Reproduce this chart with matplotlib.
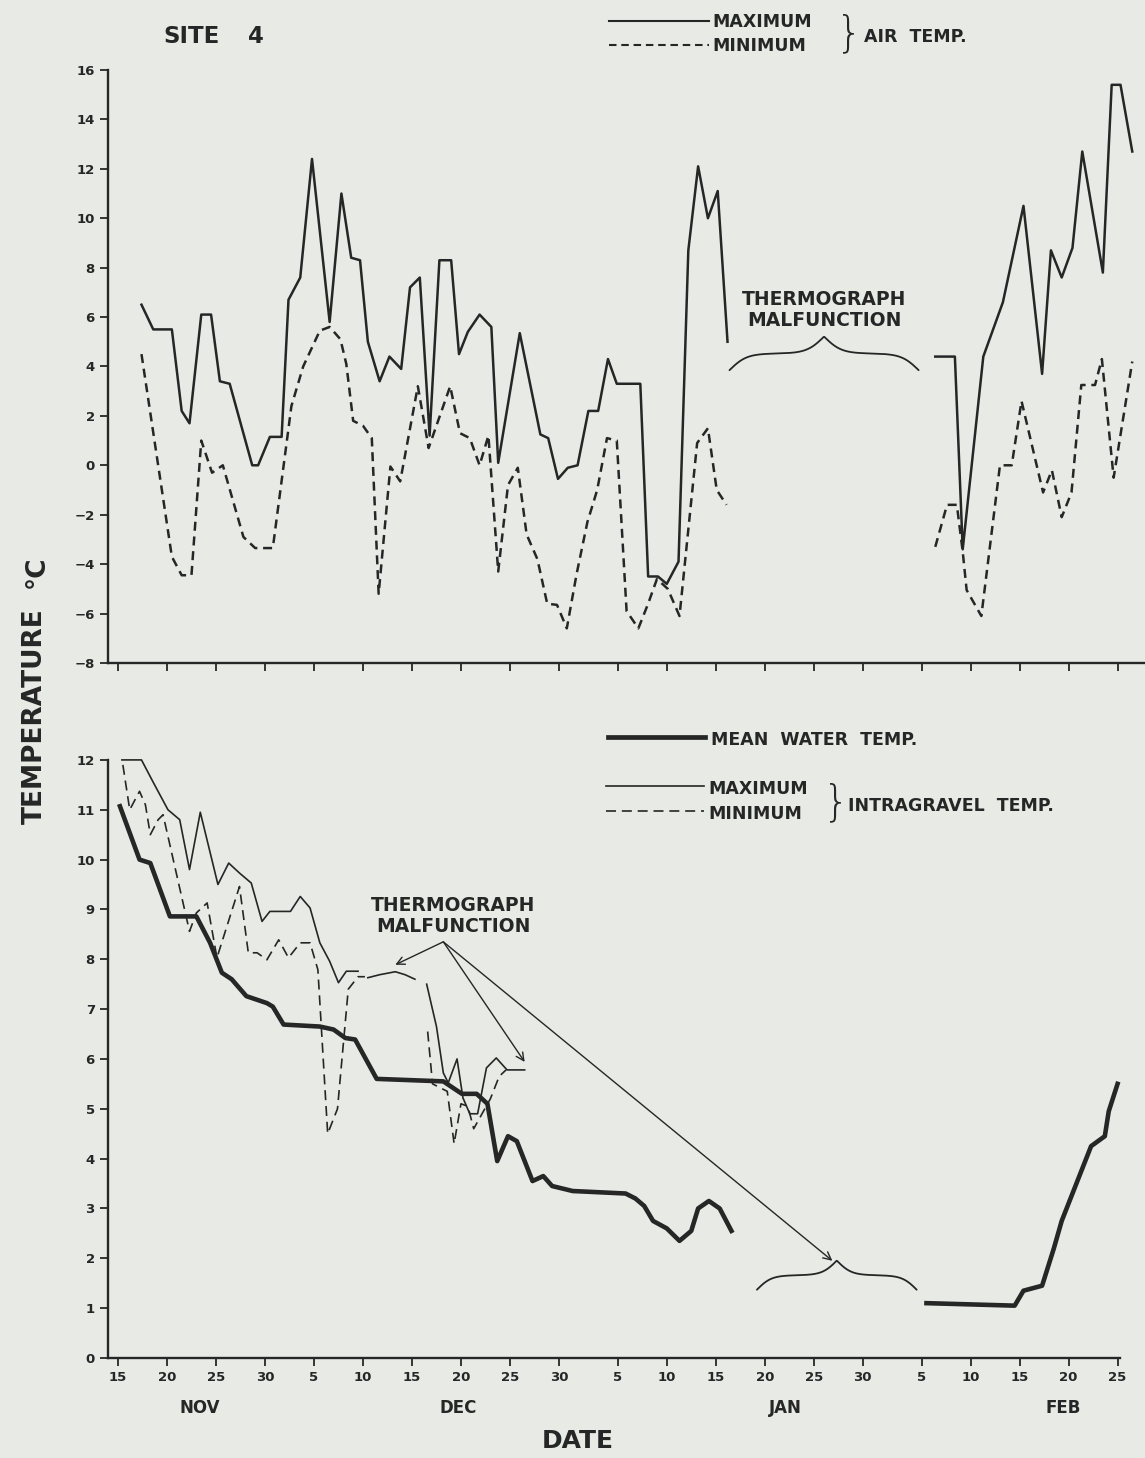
import numpy as np
import matplotlib
matplotlib.use('Agg')
from matplotlib import pyplot as plt

plt.rcParams['font.family'] = ['DejaVu Sans']
plt.rcParams['font.weight'] = 'bold'

ink = '#262626'
paper = '#e8ebe5'
nan = np.nan

# 日期: 从11月15日起算的天数
air_max_day = [2.4, 3.6, 5.5, 6.5, 7.3, 8.5, 9.5, 10.4, 11.4, 13.7, 14.3, 15.5, 16.7,
               17.4, 18.6, 19.8, 21.6, 22.8, 23.8, 24.7, 25.5, 26.7, 27.7, 28.9, 29.8,
               30.8, 31.8, 32.8, 34.0, 34.8, 35.7, 36.9, 38.1, 38.8, 41.0, 43.1, 43.9,
               44.9, 45.9, 46.9, 48.0, 49.0, 50.0, 50.9, 53.3, 54.1, 55.1, 56.0, 57.2,
               58.2, 59.2, 60.2, 61.2, 62.2, nan,
               83.4, 85.4, 86.2, 88.3, 90.3, 92.4, 94.3, 95.2, 96.3, 97.4, 98.4, 100.5,
               101.4, 102.3, 103.5]
air_max = [6.5, 5.5, 5.5, 2.2, 1.7, 6.1, 6.1, 3.4, 3.3, 0.0, 0.0, 1.15, 1.15,
           6.7, 7.6, 12.4, 5.8, 11.0, 8.4, 8.3, 5.0, 3.4, 4.4, 3.9, 7.2,
           7.6, 1.2, 8.3, 8.3, 4.5, 5.4, 6.1, 5.6, 0.1, 5.35, 1.25, 1.1,
           -0.55, -0.1, 0.0, 2.2, 2.2, 4.3, 3.3, 3.3, -4.5, -4.5, -4.8, -3.9,
           8.7, 12.1, 10.0, 11.1, 5.0, nan,
           4.4, 4.4, -3.4, 4.4, 6.6, 10.5, 3.7, 8.7, 7.6, 8.8, 12.7, 7.8,
           15.4, 15.4, 12.7]

air_min_day = [2.4, 5.5, 6.5, 7.5, 8.5, 9.6, 10.7, 12.8, 14.0, 15.8, 17.7, 18.9, 20.6,
               21.6, 22.7, 23.3, 24.0, 25.0, 25.9, 26.6, 27.8, 28.8, 30.6, 31.7, 33.9,
               34.9, 35.9, 36.9, 37.8, 38.8, 39.8, 40.8, 41.7, 42.8, 43.8, 44.8, 45.8,
               46.8, 47.9, 48.9, 49.9, 50.9, 51.9, 53.1, 54.1, 55.0, 56.1, 57.3, 59.1,
               60.2, 61.1, 62.1, nan,
               83.4, 84.6, 85.6, 86.2, 86.6, 88.1, 90.0, 91.2, 92.2, 94.4, 95.3, 96.3,
               97.3, 98.3, 99.7, 100.4, 101.6, 103.5]
air_min = [4.5, -3.7, -4.45, -4.45, 1.0, -0.3, 0.0, -2.9, -3.35, -3.35, 2.4, 4.0, 5.45,
           5.6, 5.1, 4.1, 1.8, 1.6, 1.1, -5.2, -0.05, -0.65, 3.2, 0.7, 3.2,
           1.3, 1.1, 0.0, 1.2, -4.3, -0.8, -0.1, -2.8, -3.8, -5.6, -5.65, -6.6,
           -4.4, -2.3, -1.0, 1.1, 1.0, -5.9, -6.6, -5.6, -4.6, -5.0, -6.1, 0.9,
           1.5, -1.0, -1.6, nan,
           -3.3, -1.6, -1.6, -3.5, -5.05, -6.1, 0.0, 0.0, 2.6, -1.1, -0.2, -2.1,
           -1.1, 3.25, 3.25, 4.3, -0.5, 4.2]

water_day = [0.2, 2.2, 3.3, 5.3, 8.0, 9.4, 10.6, 11.6, 13.1, 15.2, 15.8, 16.9, 20.6,
             22.0, 23.2, 24.2, 26.4, 33.2, 35.1, 36.6, 37.7, 38.7, 39.8, 40.7, 42.3,
             43.4, 44.3, 46.4, 51.8, 52.8, 53.7, 54.6, 56.0, 57.3, 58.5, 59.2, 60.3,
             61.4, 62.6, nan,
             82.5, 91.5, 92.4, 94.3, 95.5, 96.3, 98.0, 99.3, 100.7, 101.1, 102.0]
water_mean = [11.07, 10.0, 9.93, 8.86, 8.86, 8.33, 7.73, 7.6, 7.26, 7.12, 7.05, 6.69, 6.65,
              6.59, 6.42, 6.39, 5.6, 5.55, 5.3, 5.3, 5.1, 3.95, 4.45, 4.35, 3.55,
              3.65, 3.45, 3.35, 3.3, 3.2, 3.05, 2.75, 2.6, 2.35, 2.55, 3.0, 3.15,
              3.0, 2.55, nan,
              1.1, 1.05, 1.35, 1.45, 2.2, 2.75, 3.6, 4.25, 4.45, 4.95, 5.5]

gravel_max_day = [0.4, 2.4, 3.6, 5.1, 6.3, 7.3, 8.4, 10.2, 11.3, 12.4, 13.6, 14.7, 15.5,
                  17.6, 18.6, 19.6, 20.6, 21.6, 22.5, 23.3, 24.5, nan,
                  25.5, 26.7, 28.3, 29.3, 30.3, nan,
                  31.5, 32.5, 33.2, 33.7, 34.6, 35.2, 35.9, 36.7, 37.6, 38.6, 39.7, 41.5]
gravel_max = [12.0, 12.0, 11.55, 11.0, 10.8, 9.8, 10.95, 9.5, 9.93, 9.73, 9.53, 8.76, 8.96,
              8.96, 9.26, 9.03, 8.33, 7.96, 7.53, 7.76, 7.76, nan,
              7.63, 7.69, 7.75, 7.69, 7.6, nan,
              7.5, 6.65, 5.72, 5.52, 6.0, 5.22, 4.9, 4.9, 5.82, 6.02, 5.78, 5.78]

gravel_min_day = [0.5, 1.2, 2.2, 2.8, 3.3, 4.1, 4.6, 7.3, 8.0, 9.1, 10.1, 12.4, 13.3,
                  14.2, 15.2, 16.4, 17.4, 18.6, 19.6, 20.4, 21.4, 22.4, 23.5, 24.5, 25.2, nan,
                  31.6, 32.1, 33.6, 34.3, 35.0, 35.7, 36.3, 38.0, 38.9, 39.6]
gravel_min = [11.9, 11.0, 11.37, 11.1, 10.5, 10.8, 10.9, 8.56, 8.93, 9.13, 8.03, 9.46, 8.13,
              8.13, 7.99, 8.39, 8.03, 8.33, 8.33, 7.79, 4.5, 5.0, 7.4, 7.65, 7.65, nan,
              6.55, 5.5, 5.35, 4.3, 5.1, 5.05, 4.6, 5.2, 5.65, 5.78]

tick_days = [0, 5, 10, 15, 20, 25, 30, 35, 40, 45, 51, 56, 61, 66, 71, 76, 82, 87, 92, 97, 102]
tick_labels = ['15', '20', '25', '30', '5', '10', '15', '20', '25', '30',
               '5', '10', '15', '20', '25', '30', '5', '10', '15', '20', '25']
months = ['NOV', 'DEC', 'JAN', 'FEB']
month_days = [8.3, 34.7, 68.1, 96.5]


def brace(ax, x0, x1, y0, h, beta=11):
    # 花括号, 尖端朝上
    t = np.linspace(0, 1, 200)
    half = 1 / (1 + np.exp(-beta * t)) + 1 / (1 + np.exp(-beta * (t - 1)))
    half = (half - half[0]) / (half[-1] - half[0])
    ys = np.concatenate([half, half[::-1]])
    xs = np.linspace(x0, x1, len(ys))
    ax.plot(xs, y0 + h * ys, color=ink, lw=1.3, solid_capstyle='round')


def style_axis(ax):
    for side in ['top', 'right']:
        ax.spines[side].set_visible(False)
    for side in ['left', 'bottom']:
        ax.spines[side].set_linewidth(1.7)
        ax.spines[side].set_color(ink)
    ax.set_facecolor('none')
    ax.tick_params(axis='both', direction='out', length=6, width=1.3, colors=ink,
                   labelsize=9.5)
    ax.set_xticks(tick_days)
    ax.set_xlim(-1.02, 104.8)


fig = plt.figure(figsize=(11.45, 14.58), dpi=100, facecolor=paper)

# 气温
ax1 = fig.add_axes([0.0943, 0.5453, 0.9057, 0.4067])
style_axis(ax1)
ax1.plot(air_max_day, air_max, color=ink, lw=1.8)
ax1.plot(air_min_day, air_min, color=ink, lw=1.8, linestyle=(0, (3.6, 2.3)))
ax1.set_ylim(-8, 16)
ax1.set_yticks(range(-8, 17, 2))
ax1.set_yticklabels([str(v).replace('-', '\u2212') for v in range(-8, 17, 2)])
ax1.set_xticklabels([])
ax1.text(72.1, 6.3, 'THERMOGRAPH\nMALFUNCTION', ha='center', va='center',
         fontsize=13.5, linespacing=1.15, color=ink)
brace(ax1, 62.4, 81.7, 3.85, 1.35)

# 水温
ax2 = fig.add_axes([0.0943, 0.0686, 0.9057, 0.4102])
style_axis(ax2)
ax2.plot(water_day, water_mean, color=ink, lw=3.3, solid_joinstyle='round')
ax2.plot(gravel_max_day, gravel_max, color=ink, lw=1.2, clip_on=False)
ax2.plot(gravel_min_day, gravel_min, color=ink, lw=1.2, linestyle=(0, (6, 3.5)),
         clip_on=False)
ax2.set_ylim(0, 12)
ax2.set_yticks(range(0, 13))
ax2.set_xticklabels(tick_labels)
ax2.spines['bottom'].set_bounds(-1.02, 102.2)
for m, d in zip(months, month_days):
    ax2.text(d, -0.083, m, transform=ax2.get_xaxis_transform(), ha='center',
             va='center', fontsize=12, color=ink)
ax2.text(34.2, 8.87, 'THERMOGRAPH\nMALFUNCTION', ha='center', va='center',
         fontsize=13.5, linespacing=1.15, color=ink)
for tx, ty in [(28.3, 7.89), (41.5, 5.94), (72.9, 1.95)]:
    ax2.annotate('', xy=(tx, ty), xytext=(33.2, 8.35),
                 arrowprops=dict(arrowstyle='->', color=ink, lw=1.0,
                                 shrinkA=0, shrinkB=0, mutation_scale=14))
brace(ax2, 65.2, 81.5, 1.37, 0.58)

# 图例和标题, 按像素放置
ov = fig.add_axes([0, 0, 1, 1], zorder=5)
ov.set_xlim(0, 1145)
ov.set_ylim(1458, 0)
ov.axis('off')
ov.set_facecolor('none')

ov.text(163, 36, 'SITE', fontsize=16.5, va='center', color=ink)
ov.text(248, 36, '4', fontsize=16.5, va='center', color=ink)

ov.plot([609, 709], [21, 21], color=ink, lw=1.5)
ov.plot([609, 709], [45, 45], color=ink, lw=1.5, linestyle=(0, (3.6, 2.3)))
ov.text(712, 22, 'MAXIMUM', fontsize=12.5, va='center', color=ink)
ov.text(712, 46, 'MINIMUM', fontsize=12.5, va='center', color=ink)
ov.text(836, 34, '}', fontsize=30, va='center', color=ink, weight='light')
ov.text(864, 37, 'AIR  TEMP.', fontsize=12.5, va='center', color=ink)

ov.plot([608, 705], [737, 737], color=ink, lw=3.4)
ov.text(711, 740, 'MEAN  WATER  TEMP.', fontsize=12.5, va='center', color=ink)
ov.plot([606, 704], [786, 786], color=ink, lw=1.2)
ov.plot([606, 704], [811, 811], color=ink, lw=1.2, linestyle=(0, (6, 3.5)))
ov.text(708, 789, 'MAXIMUM', fontsize=12.5, va='center', color=ink)
ov.text(708, 814, 'MINIMUM', fontsize=12.5, va='center', color=ink)
ov.text(823, 803, '}', fontsize=30, va='center', color=ink, weight='light')
ov.text(848, 806, 'INTRAGRAVEL  TEMP.', fontsize=12.5, va='center', color=ink)

ov.text(35, 716, 'TEMPERATURE', fontsize=19, rotation=90, ha='center', va='center',
        color=ink)
ov.text(37, 572, '\u00b0C', fontsize=19, rotation=90, ha='center', va='center',
        color=ink)
ov.text(578, 1441, 'DATE', fontsize=18, ha='center', va='center', color=ink)

plt.savefig('out.png', dpi=100, facecolor=paper)
